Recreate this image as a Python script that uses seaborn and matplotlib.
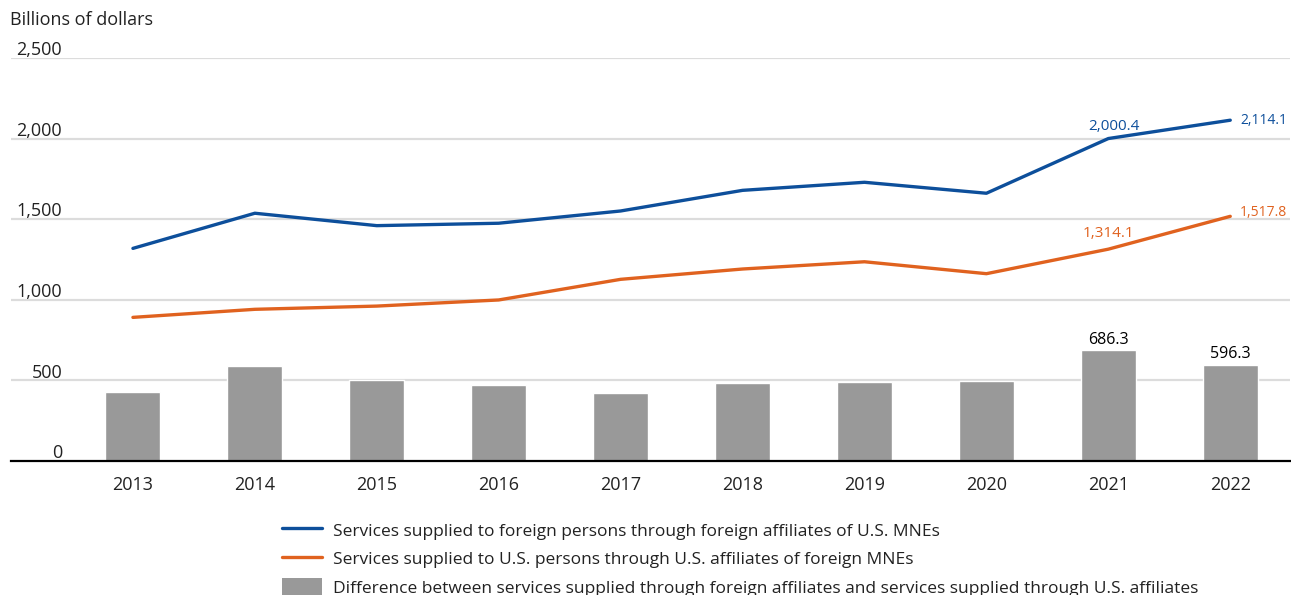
import numpy as np
import pandas as pd
import matplotlib
matplotlib.use("Agg")
import matplotlib.pyplot as plt
from matplotlib.lines import Line2D
from matplotlib.patches import Patch
import seaborn as sns

# Data (billions of dollars)
years = ["2013", "2014", "2015", "2016", "2017", "2018", "2019", "2020", "2021", "2022"]
foreign_affiliates = [1319, 1537, 1460, 1475, 1551, 1679, 1729, 1661, 2000.4, 2114.1]
us_affiliates = [891, 941, 961, 999, 1127, 1191, 1236, 1162, 1314.1, 1517.8]
difference = [428, 589, 502, 472, 423, 485, 491, 497, 686.3, 596.3]
y_ticks = [0, 500, 1000, 1500, 2000, 2500]

label_blue = "Services supplied to foreign persons through foreign affiliates of U.S. MNEs"
label_orange = "Services supplied to U.S. persons through U.S. affiliates of foreign MNEs"
label_bar = ("Difference between services supplied through foreign affiliates "
             "and services supplied through U.S. affiliates")

BLUE = "#0d4f9b"
ORANGE = "#e0621f"
GREY = "#999999"
GRID = "#dcdcdc"
TEXT = "#222222"

sns.set_theme(style="white")
plt.rcParams["font.family"] = ["Open Sans", "DejaVu Sans"]

df = pd.DataFrame({
    "year": years,
    "pos": np.arange(len(years)),
    "foreign": foreign_affiliates,
    "us": us_affiliates,
    "diff": difference,
})

fig = plt.figure(figsize=(12.91, 5.95), dpi=100)
ax = fig.add_axes([11 / 1291, 1 - 461 / 595, 1279 / 1291, (461 - 58) / 595])

# Horizontal gridlines
for v in y_ticks[1:]:
    ax.axhline(v, color=GRID, lw=1.6, zorder=0)

sns.barplot(data=df, x="year", y="diff", color=GREY, width=0.45,
            saturation=1, ax=ax, zorder=2)
sns.lineplot(data=df, x="pos", y="foreign", color=BLUE, lw=2.4, ax=ax, zorder=3)
sns.lineplot(data=df, x="pos", y="us", color=ORANGE, lw=2.4, ax=ax, zorder=3)

ax.set_xlim(-1.0, 9.49)
ax.set_ylim(0, 2500)
ax.set_xlabel("")
ax.set_ylabel("")
ax.set_yticks([])
for s in ["top", "right", "left"]:
    ax.spines[s].set_visible(False)
ax.spines["bottom"].set_color("black")
ax.spines["bottom"].set_linewidth(1.6)
ax.tick_params(axis="x", length=0, pad=11, labelsize=13, labelcolor=TEXT)

# Y tick labels sit above their gridlines on the left
for v in y_ticks:
    ax.annotate(f"{v:,}", xy=(0.04, v), xycoords=("axes fraction", "data"),
                xytext=(0, 2), textcoords="offset points",
                ha="right", va="baseline", fontsize=13, color=TEXT,
                annotation_clip=False)

fig.text(10 / 1291, 1 - 20 / 595, "Billions of dollars", ha="left", va="center",
         fontsize=13, color=TEXT)

# Value labels for the last two years
n = len(years)
for i in (n - 2, n - 1):
    ax.annotate(f"{difference[i]:,.1f}", xy=(i, difference[i]), xytext=(0, 2),
                textcoords="offset points", ha="center", va="bottom",
                fontsize=11.5, color="black")
ax.annotate(f"{foreign_affiliates[n-2]:,.1f}", xy=(n - 2, foreign_affiliates[n - 2]),
            xytext=(4, 3), textcoords="offset points", ha="center", va="bottom",
            fontsize=11, color=BLUE)
ax.annotate(f"{foreign_affiliates[n-1]:,.1f}", xy=(n - 1, foreign_affiliates[n - 1]),
            xytext=(7, 0), textcoords="offset points", ha="left", va="center",
            fontsize=10, color=BLUE)
ax.annotate(f"{us_affiliates[n-2]:,.1f}", xy=(n - 2, us_affiliates[n - 2]),
            xytext=(0, 6), textcoords="offset points", ha="center", va="bottom",
            fontsize=11, color=ORANGE)
ax.annotate(f"{us_affiliates[n-1]:,.1f}", xy=(n - 1, us_affiliates[n - 1]),
            xytext=(7, 3), textcoords="offset points", ha="left", va="center",
            fontsize=10, color=ORANGE)

handles = [
    Line2D([0], [0], color=BLUE, lw=2.4),
    Line2D([0], [0], color=ORANGE, lw=2.4),
    Patch(facecolor=GREY, edgecolor="none"),
]
fig.legend(handles, [label_blue, label_orange, label_bar],
           loc="upper left", bbox_to_anchor=(277 / 1291, 1 - 516 / 595),
           frameon=False, fontsize=12.5, handlelength=2.3, handleheight=1.15,
           handletextpad=0.65, labelspacing=0.58, labelcolor=TEXT,
           borderaxespad=0, borderpad=0.3)

fig.savefig("out.png", dpi=100, facecolor="white")
